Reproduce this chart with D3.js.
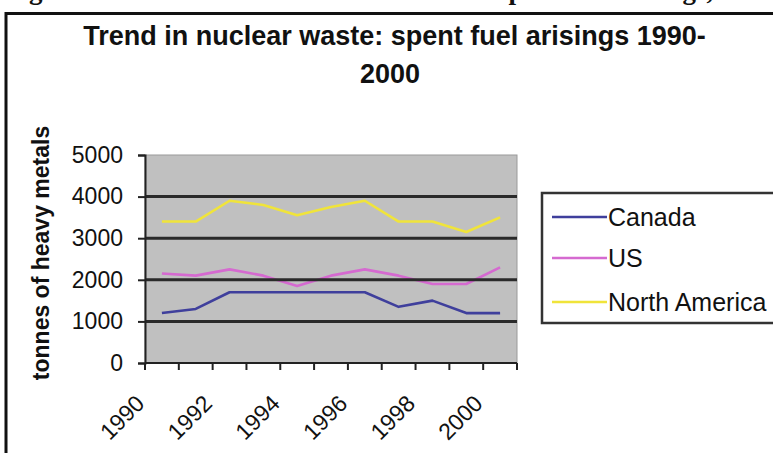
<!DOCTYPE html>
<html>
<head>
<meta charset="utf-8">
<script src="https://cdn.jsdelivr.net/npm/d3@7"></script>
<style>
  html, body { margin: 0; padding: 0; background: #fff; }
  svg { display: block; }
  text { font-family: "Liberation Sans", Arial, sans-serif; fill: #111; }
</style>
</head>
<body>
<svg id="chart" width="773" height="453"></svg>
<script>
// ---- data ----
const years = [1990, 1991, 1992, 1993, 1994, 1995, 1996, 1997, 1998, 1999, 2000];
const canada = [1200, 1300, 1700, 1700, 1700, 1700, 1700, 1350, 1500, 1200, 1200];
const us = [2150, 2100, 2250, 2100, 1850, 2100, 2250, 2100, 1900, 1900, 2300];
const northAmerica = [3400, 3400, 3900, 3800, 3550, 3750, 3900, 3400, 3400, 3150, 3500];
const seriesNames = ["Canada", "US", "North America"];
const seriesColors = ["#3f3f9c", "#d56ad0", "#f0e43a"];
const yTicks = [0, 1000, 2000, 3000, 4000, 5000];
const gridValues = [1000, 2000, 3000, 4000];
const xLabelYears = [1990, 1992, 1994, 1996, 1998, 2000];
const titleLines = ["Trend in nuclear waste: spent fuel arisings 1990-", "2000"];
const yAxisTitle = "tonnes of heavy metals";
const captionParts = ["Figure 5.8: Trend in nuclear waste:", "spent fuel arisings, 1990-2000"];

const series = [canada, us, northAmerica];

const svg = d3.select("#chart");

// page caption (cut off at top) and chart frame
svg.append("text").attr("x", 5).attr("y", -1)
  .style("font-family", "'Liberation Serif', 'Times New Roman', serif")
  .style("font-weight", "bold").style("font-size", "27px")
  .text(captionParts[0]);
svg.append("text").attr("x", 498).attr("y", -1)
  .style("font-family", "'Liberation Serif', 'Times New Roman', serif")
  .style("font-weight", "bold").style("font-size", "27px")
  .text(captionParts[1]);

svg.append("rect").attr("x", 6).attr("y", 13.5).attr("width", 900).attr("height", 600)
  .attr("fill", "#fff").attr("stroke", "#111").attr("stroke-width", 3);

// title
svg.selectAll("text.title").data(titleLines).enter().append("text")
  .attr("class", "title")
  .attr("x", (d, i) => i === 0 ? 394.5 : 390)
  .attr("y", (d, i) => 45 + i * 38)
  .attr("text-anchor", "middle")
  .style("font-weight", "bold").style("font-size", "27px")
  .text(d => d);

// scales
const x = d3.scaleBand().domain(years).range([145, 517]);
const xc = d => x(d) + x.bandwidth() / 2;
const y = d3.scaleLinear().domain([0, 5000]).range([363, 155]);

// plot area
svg.append("rect").attr("x", 145).attr("y", y(5000)).attr("width", 372).attr("height", y(0) - y(5000))
  .attr("fill", "#c0c0c0").attr("stroke", "#9a9a9a").attr("stroke-width", 1);

// series lines
const line = d3.line().x((d, i) => xc(years[i])).y(d => y(d));
series.forEach((s, k) => {
  svg.append("path").datum(s).attr("d", line)
    .attr("fill", "none").attr("stroke", seriesColors[k]).attr("stroke-width", 2.6)
    .attr("stroke-linejoin", "round");
});

// gridlines (drawn dark and thick)
svg.selectAll("line.grid").data(gridValues).enter().append("line")
  .attr("class", "grid")
  .attr("x1", 145).attr("x2", 517)
  .attr("y1", d => y(d)).attr("y2", d => y(d))
  .attr("stroke", "#2a2a2a").attr("stroke-width", 3);

// y axis
const yAxis = d3.axisLeft(y).tickValues(yTicks).tickSize(7).tickPadding(15).tickFormat(d3.format("d"));
const gy = svg.append("g").attr("transform", "translate(145,0)").call(yAxis);
gy.select(".domain").attr("stroke", "#222").attr("stroke-width", 2);
gy.selectAll(".tick line").attr("stroke", "#222").attr("stroke-width", 2);
gy.selectAll(".tick text").style("font-size", "23px").style("font-family", "'Liberation Sans', Arial, sans-serif").attr("fill", "#222");

// x axis line and ticks at category boundaries
const boundaries = years.map(d => x(d)).concat([x(years[years.length - 1]) + x.bandwidth()]);
svg.append("line").attr("x1", 145).attr("x2", 517).attr("y1", y(0)).attr("y2", y(0))
  .attr("stroke", "#222").attr("stroke-width", 2);
svg.selectAll("line.xtick").data(boundaries).enter().append("line")
  .attr("class", "xtick")
  .attr("x1", d => d).attr("x2", d => d)
  .attr("y1", y(0)).attr("y2", y(0) + 7)
  .attr("stroke", "#222").attr("stroke-width", 2);

// x labels rotated
svg.selectAll("text.xlab").data(xLabelYears).enter().append("text")
  .attr("class", "xlab")
  .attr("transform", d => `translate(${xc(d) - 16},${y(0) + 42}) rotate(-45)`)
  .attr("text-anchor", "end")
  .style("font-size", "23px").attr("fill", "#222")
  .text(d => d);

// y axis title
svg.append("text")
  .attr("transform", `translate(49,${(y(0) + y(5000)) / 2 - 6}) rotate(-90)`)
  .attr("text-anchor", "middle")
  .style("font-weight", "bold").style("font-size", "23px")
  .text(yAxisTitle);

// legend
const lg = svg.append("g");
lg.append("rect").attr("x", 542).attr("y", 193).attr("width", 300).attr("height", 130)
  .attr("fill", "#fff").attr("stroke", "#333").attr("stroke-width", 2.5);
const legendY = [217, 258, 302];
seriesNames.forEach((name, k) => {
  lg.append("line").attr("x1", 552).attr("x2", 607).attr("y1", legendY[k]).attr("y2", legendY[k])
    .attr("stroke", seriesColors[k]).attr("stroke-width", 2.6);
  lg.append("text").attr("x", 608).attr("y", legendY[k] + 8.5)
    .style("font-size", "25px").attr("fill", "#222")
    .text(name);
});
</script>
</body>
</html>
